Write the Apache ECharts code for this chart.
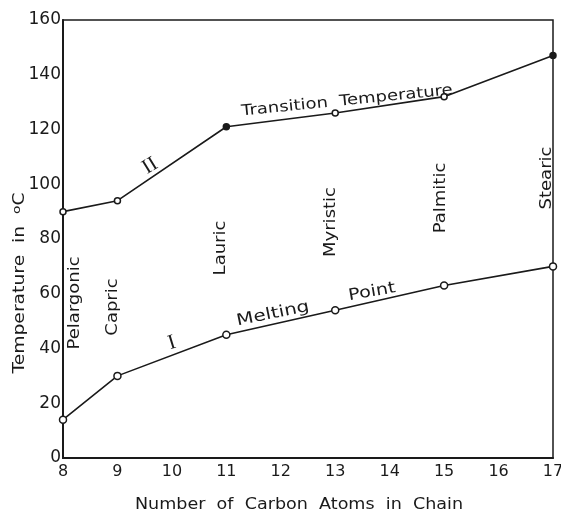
<!DOCTYPE html>
<html>
<head>
<meta charset="utf-8">
<script src="https://cdn.jsdelivr.net/npm/echarts@6/dist/echarts.min.js"></script>
<style>
  html, body { margin: 0; padding: 0; background: #fff; }
  #chart { width: 561px; height: 514px; }
</style>
</head>
<body>
<div id="chart"></div>
<script>
// carbon atoms in chain
const carbonAtoms = [8, 9, 11, 13, 15, 17]
const acidNames = ['Pelargonic', 'Capric', 'Lauric', 'Myristic', 'Palmitic', 'Stearic']
// curve II and curve I (deg C)
const transitionTemp = [90, 94, 121, 126, 132, 147]
const meltingPoint = [14, 30, 45, 54, 63, 70]
const xTicks = [8, 9, 10, 11, 12, 13, 14, 15, 16, 17]
const yTicks = [0, 20, 40, 60, 80, 100, 120, 140, 160]

const ink = '#1a1a1a'
const font = 'DejaVu Sans'

let chart = echarts.init(document.getElementById('chart'))

// points on curve II drawn as solid dots in the original
const solidII = [2, 5]

function pairs(ys, solid) {
  return carbonAtoms.map((x, i) => {
    if (solid && solid.indexOf(i) >= 0) {
      return { value: [x, ys[i]], itemStyle: { color: ink } }
    }
    return [x, ys[i]]
  })
}

// where the acid names sit (pixel centres, rotated text)
const namePos = [[75, 303], [113, 307], [221, 248], [331, 222], [441, 198], [547, 178]]

function label(text, x, y, rot, size, sx, fam) {
  return {
    type: 'text', x: x, y: y, rotation: rot, scaleX: sx || 1,
    style: {
      text: text, fontFamily: fam || font, fontSize: size || 15, fill: ink,
      align: 'center', verticalAlign: 'middle'
    }
  }
}

let option = {
  animation: false,
  backgroundColor: '#fff',
  grid: {
    left: 63,
    right: 8,
    top: 20,
    bottom: 56,
    outerBoundsMode: 'none',
    show: true,
    borderColor: ink,
    borderWidth: 1.5
  },
  xAxis: {
    type: 'value',
    min: xTicks[0],
    max: xTicks[xTicks.length - 1],
    interval: 1,
    axisLine: { lineStyle: { color: ink, width: 2 } },
    axisTick: { show: false },
    splitLine: { show: false },
    axisLabel: { fontFamily: font, fontSize: 16, color: ink, margin: 6 }
  },
  yAxis: {
    type: 'value',
    min: yTicks[0],
    max: yTicks[yTicks.length - 1],
    interval: 20,
    axisLine: { show: true, lineStyle: { color: ink, width: 2 } },
    axisTick: { show: false },
    splitLine: { show: false },
    axisLabel: { fontFamily: font, fontSize: 17, color: ink, margin: 2 }
  },
  series: [
    {
      name: 'Transition Temperature',
      type: 'line',
      data: pairs(transitionTemp, solidII),
      symbol: 'circle',
      symbolSize: 6,
      lineStyle: { color: ink, width: 1.6 },
      itemStyle: { color: '#fff', borderColor: ink, borderWidth: 1.5 }
    },
    {
      name: 'Melting Point',
      type: 'line',
      data: pairs(meltingPoint),
      symbol: 'circle',
      symbolSize: 7,
      lineStyle: { color: ink, width: 1.6 },
      itemStyle: { color: '#fff', borderColor: ink, borderWidth: 1.5 }
    }
  ],
  graphic: [
    ...acidNames.map((n, i) => label(n, namePos[i][0], namePos[i][1], Math.PI / 2, 15, 1.2)),
    label('II', 150, 166, 0.55, 21, 1, 'Liberation Serif'),
    label('Transition  Temperature', 347, 101, 0.1, 15, 1.2),
    label('I', 172, 343, 0.3, 21, 1, 'Liberation Serif'),
    label('Melting', 273, 314, 0.2, 16, 1.25),
    label('Point', 372, 292, 0.17, 16, 1.2),
    label('Number  of  Carbon  Atoms  in  Chain', 299, 505, 0, 15, 1.17),
    {
      type: 'text', x: 20, y: 283, rotation: Math.PI / 2, scaleX: 1.25,
      style: {
        text: 'Temperature  in  {sup|o}C', fontFamily: font, fontSize: 15, fill: ink,
        align: 'center', verticalAlign: 'middle',
        rich: { sup: { fontFamily: font, fontSize: 11, fill: ink, verticalAlign: 'top', padding: [0, 0, 6, 0] } }
      }
    }
  ]
}
chart.setOption(option)
</script>
</body>
</html>
